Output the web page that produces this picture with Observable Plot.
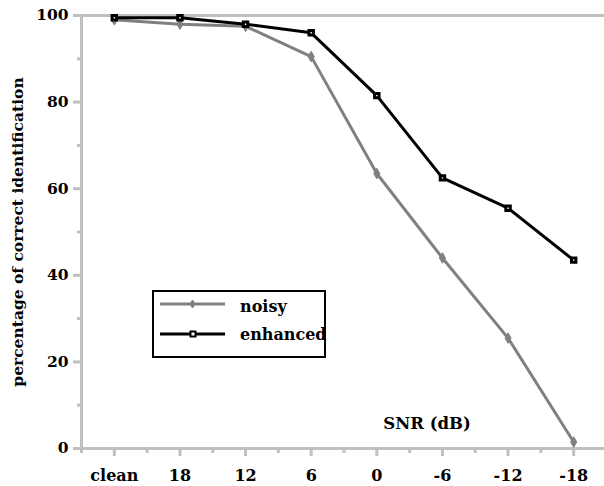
<!DOCTYPE html>
<html><head><meta charset="utf-8">
<script src="https://cdn.jsdelivr.net/npm/d3@7"></script>
<script src="https://cdn.jsdelivr.net/npm/@observablehq/plot@0.6"></script>
<style>
body{margin:0;background:#fff;}
#wrap{position:relative;width:604px;height:486px;font-family:"DejaVu Serif",serif;font-weight:bold;overflow:hidden;}
#wrap svg.plot{position:absolute;left:0;top:0;}
#wrap svg.plot text{font-family:"DejaVu Serif",serif;font-weight:bold;}
#legend{position:absolute;left:152px;top:290px;width:170px;height:64px;border:2px solid #000;background:#fff;}
#legend .row{position:absolute;left:0;height:20px;display:flex;align-items:center;}
#legend .row span{font-size:16px;margin-left:8px;line-height:20px;position:relative;}
</style></head><body><div id="wrap"></div>
<script>
const categories = ["clean", "18", "12", "6", "0", "-6", "-12", "-18"];
const noisy = [99, 98, 97.5, 90.5, 63.5, 44, 25.5, 1.5];
const enhanced = [99.5, 99.5, 98, 96, 81.5, 62.5, 55.5, 43.5];
const yTicks = [0, 20, 40, 60, 80, 100];
const yMinorTicks = [10, 30, 50, 70, 90];
const seriesNames = ["noisy", "enhanced"];
const seriesColors = ["#808080", "#000000"];
const yLabel = "percentage of correct identification";
const xLabel = "SNR (dB)";

const idx = categories.map((_, i) => i);
const xMinor = d3.range(-0.5, categories.length, 1);
const rows = [
  ...noisy.map((v, i) => ({i, v, series: "noisy"})),
  ...enhanced.map((v, i) => ({i, v, series: "enhanced"}))
];
const axisGrey = "#c0c0c0";
const font = {fontFamily: "DejaVu Serif", fontWeight: "bold"};

const chart = Plot.plot({
  width: 604, height: 486,
  marginLeft: 81, marginRight: 0, marginTop: 15, marginBottom: 38,
  style: {fontFamily: "DejaVu Serif", fontWeight: "bold", color: "#000", background: "transparent"},
  x: {type: "linear", domain: [-0.5, categories.length - 0.5], range: [81, 606]},
  y: {domain: [0, 100], range: [448, 15]},
  color: {domain: seriesNames, range: seriesColors},
  marks: [
    Plot.ruleY([0, 100], {stroke: axisGrey, strokeWidth: 3}),
    Plot.ruleX([-0.5], {stroke: axisGrey, strokeWidth: 3}),
    Plot.axisY(yTicks, {tickSize: 8, tickPadding: 5, stroke: axisGrey, strokeWidth: 3, fontSize: 15.5, ...font,
      label: yLabel, labelAnchor: "center", labelArrow: "none", labelOffset: 70}),
    Plot.axisY(yMinorTicks, {tickSize: 4, stroke: axisGrey, strokeWidth: 3, tickFormat: () => "", label: null}),
    Plot.axisX(idx, {tickSize: 8, tickPadding: 13, stroke: axisGrey, strokeWidth: 3, fontSize: 16, ...font,
      tickFormat: i => categories[i], label: null}),
    Plot.axisX(xMinor, {tickSize: 5, stroke: axisGrey, strokeWidth: 3, tickFormat: () => "", label: null}),
    Plot.line(rows, {x: "i", y: "v", z: "series", stroke: "series", strokeWidth: 3}),
    Plot.dot(rows.filter(d => d.series === "noisy"), {x: "i", y: "v", symbol: "diamond", r: 3.2, fill: seriesColors[0], stroke: seriesColors[0], strokeWidth: 1}),
    Plot.dot(rows.filter(d => d.series === "enhanced"), {x: "i", y: "v", symbol: "square", r: 2.5, fill: "#fff", stroke: seriesColors[1], strokeWidth: 3}),
    Plot.text([xLabel], {frameAnchor: "bottom", dx: 84, dy: -20, fontSize: 16.5, ...font, fill: "#000"})
  ]
});
chart.classList.add("plot");
const wrap = document.getElementById("wrap");
wrap.appendChild(chart);

// legend
const legend = document.createElement("div");
legend.id = "legend";
const swatch = (color, kind) => {
  const ns = "http://www.w3.org/2000/svg";
  const s = document.createElementNS(ns, "svg");
  s.setAttribute("width", 72); s.setAttribute("height", 20);
  s.style.marginLeft = "6px";
  const l = document.createElementNS(ns, "line");
  l.setAttribute("x1", 0); l.setAttribute("x2", 65); l.setAttribute("y1", 10); l.setAttribute("y2", 10);
  l.setAttribute("stroke", color); l.setAttribute("stroke-width", 3);
  s.appendChild(l);
  if (kind === "diamond") {
    const p = document.createElementNS(ns, "path");
    p.setAttribute("d", "M32.5,6 L35,10 L32.5,14 L30,10 Z");
    p.setAttribute("fill", color); p.setAttribute("stroke", color);
    s.appendChild(p);
  } else {
    const r = document.createElementNS(ns, "rect");
    r.setAttribute("x", 30.5); r.setAttribute("y", 7.5); r.setAttribute("width", 5); r.setAttribute("height", 5);
    r.setAttribute("fill", "#fff"); r.setAttribute("stroke", color); r.setAttribute("stroke-width", 2);
    s.appendChild(r);
  }
  return s;
};
seriesNames.forEach((name, k) => {
  const row = document.createElement("div");
  row.className = "row";
  row.style.top = (k === 0 ? 2 : 32) + "px";
  row.appendChild(swatch(seriesColors[k], k === 0 ? "diamond" : "square"));
  const t = document.createElement("span");
  t.textContent = name;
  t.style.top = (k === 0 ? 3 : 1) + "px";
  row.appendChild(t);
  legend.appendChild(row);
});
wrap.appendChild(legend);
</script>
</body></html>
